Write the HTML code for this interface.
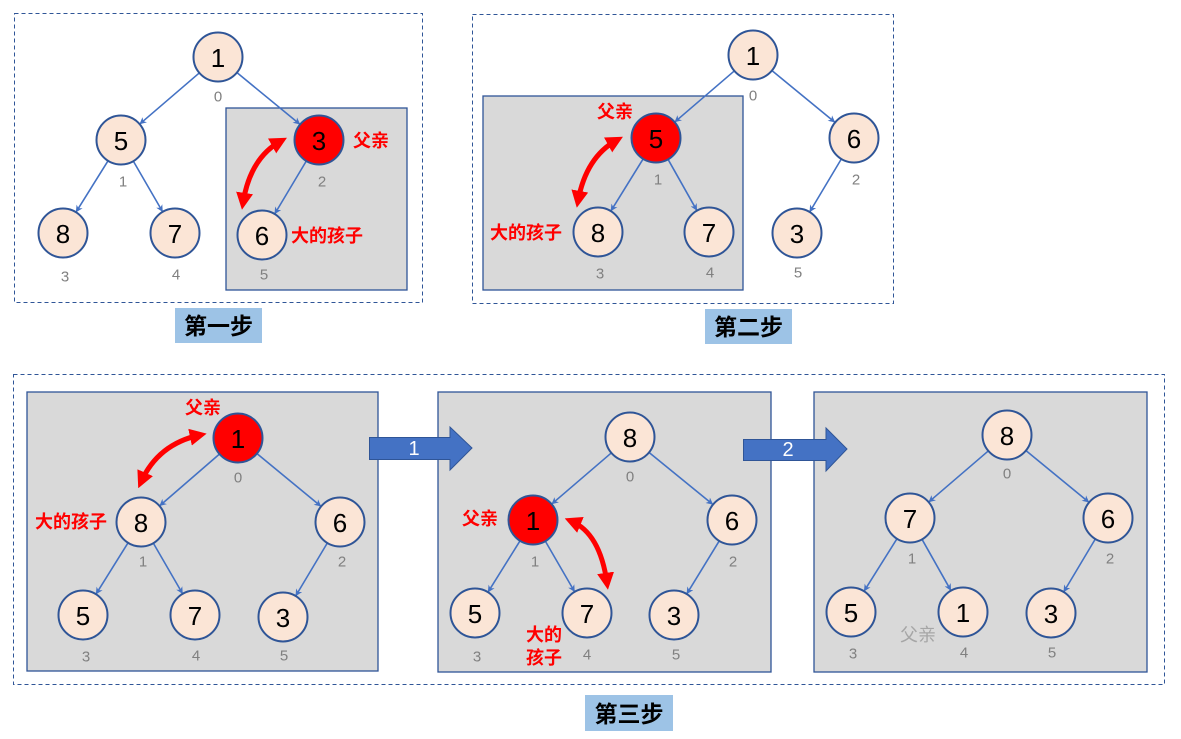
<!DOCTYPE html>
<html><head><meta charset="utf-8"><style>
html,body{margin:0;padding:0;background:#fff;}
svg{display:block;}
.num{font-family:"Liberation Sans",sans-serif;font-size:26px;fill:#000;text-anchor:middle;dominant-baseline:central;}
.idx{font-family:"Liberation Sans",sans-serif;font-size:15px;fill:#808080;text-anchor:middle;dominant-baseline:central;}
.red{font-family:"Liberation Sans","Noto Sans CJK SC",sans-serif;font-size:18px;font-weight:bold;fill:#FF0000;dominant-baseline:central;}
.step{font-family:"Liberation Sans","Noto Sans CJK SC",sans-serif;font-size:23px;font-weight:bold;fill:#000;text-anchor:middle;dominant-baseline:central;}
.n{fill:#FBE5D6;stroke:#2F5597;stroke-width:2;}
.nr{fill:#FF0000;stroke:#2F5597;stroke-width:2;}
.e{stroke:#4472C4;stroke-width:1.6;fill:none;marker-end:url(#ah);}
.c{stroke:#FF0000;stroke-width:5;fill:none;marker-end:url(#rh);marker-start:url(#rhs);}
.dash{fill:none;stroke:#2F5597;stroke-width:1;stroke-dasharray:4 3;}
.gbox{fill:#D9D9D9;stroke:#2F5597;stroke-width:1.3;}
</style></head><body>
<svg width="1181" height="739" viewBox="0 0 1181 739" xmlns="http://www.w3.org/2000/svg">
<defs>
<marker id="ah" viewBox="0 0 10 10" refX="9" refY="5" markerWidth="7" markerHeight="7" markerUnits="userSpaceOnUse" orient="auto">
<path d="M0,0 L10,5 L0,10 L3,5 z" fill="#4472C4"/></marker>
<marker id="rh" viewBox="0 0 10 10" refX="6" refY="5" markerWidth="17" markerHeight="17" markerUnits="userSpaceOnUse" orient="auto">
<path d="M0,0 L10,5 L0,10 z" fill="#FF0000"/></marker>
<marker id="rhs" viewBox="0 0 10 10" refX="6" refY="5" markerWidth="17" markerHeight="17" markerUnits="userSpaceOnUse" orient="auto-start-reverse">
<path d="M0,0 L10,5 L0,10 z" fill="#FF0000"/></marker>
</defs>

<!-- ========== Panel 1 ========== -->
<rect class="dash" x="14.5" y="13.5" width="408" height="289"/>
<rect class="gbox" x="226" y="108" width="181" height="182"/>
<line class="e" x1="199" y1="73.2" x2="140" y2="123.8"/>
<line class="e" x1="237.3" y1="72.9" x2="299.7" y2="124.1"/>
<line class="e" x1="107.8" y1="161.2" x2="76.2" y2="211.8"/>
<line class="e" x1="133.6" y1="161.6" x2="162.4" y2="211.4"/>
<line class="e" x1="306.1" y1="161.4" x2="274.9" y2="213.6"/>
<circle class="n" cx="218" cy="57" r="24.5"/><text class="num" x="218" y="58">1</text><text class="idx" x="218" y="97">0</text>
<circle class="n" cx="121" cy="140" r="24.5"/><text class="num" x="121" y="141">5</text><text class="idx" x="123" y="182">1</text>
<circle class="nr" cx="319" cy="140" r="24.5"/><text class="num" x="319" y="141">3</text><text class="idx" x="322" y="182">2</text>
<circle class="n" cx="63" cy="233" r="24.5"/><text class="num" x="63" y="234">8</text><text class="idx" x="65" y="277">3</text>
<circle class="n" cx="175" cy="233" r="24.5"/><text class="num" x="175" y="234">7</text><text class="idx" x="176" y="275">4</text>
<circle class="n" cx="262" cy="235" r="24.5"/><text class="num" x="262" y="236">6</text><text class="idx" x="264" y="275">5</text>
<path class="c" d="M281,141 Q250,158 243,203"/>
<text class="red" x="353" y="141">父亲</text>
<text class="red" x="291" y="236">大的孩子</text>
<rect x="175" y="308" width="87" height="35" fill="#9DC3E6"/>
<text class="step" x="218.5" y="326">第一步</text>

<!-- ========== Panel 2 ========== -->
<rect class="dash" x="472.5" y="14.5" width="421" height="289"/>
<rect class="gbox" x="483" y="96" width="260" height="194"/>
<line class="e" x1="734" y1="71.2" x2="675" y2="121.8"/>
<line class="e" x1="772.3" y1="70.9" x2="834.7" y2="122.1"/>
<line class="e" x1="642.9" y1="159.3" x2="611.1" y2="210.7"/>
<line class="e" x1="668.3" y1="159.8" x2="696.7" y2="210.2"/>
<line class="e" x1="841.1" y1="159.4" x2="809.9" y2="211.6"/>
<circle class="n" cx="753" cy="55" r="24.5"/><text class="num" x="753" y="56">1</text><text class="idx" x="753" y="96">0</text>
<circle class="nr" cx="656" cy="138" r="24.5"/><text class="num" x="656" y="139">5</text><text class="idx" x="658" y="180">1</text>
<circle class="n" cx="854" cy="138" r="24.5"/><text class="num" x="854" y="139">6</text><text class="idx" x="856" y="180">2</text>
<circle class="n" cx="598" cy="232" r="24.5"/><text class="num" x="598" y="233">8</text><text class="idx" x="600" y="274">3</text>
<circle class="n" cx="709" cy="232" r="24.5"/><text class="num" x="709" y="233">7</text><text class="idx" x="710" y="273">4</text>
<circle class="n" cx="797" cy="233" r="24.5"/><text class="num" x="797" y="234">3</text><text class="idx" x="798" y="273">5</text>
<path class="c" d="M617,140 Q586,157 578,201"/>
<text class="red" x="597" y="112">父亲</text>
<text class="red" x="490" y="233">大的孩子</text>
<rect x="705" y="309" width="87" height="35" fill="#9DC3E6"/>
<text class="step" x="748.5" y="327">第二步</text>

<!-- ========== Panel 3 ========== -->
<rect class="dash" x="13.5" y="374.5" width="1151" height="310"/>

<!-- 3a -->
<rect class="gbox" x="27" y="392" width="351" height="279"/>
<line class="e" x1="219.1" y1="454.4" x2="159.9" y2="505.6"/>
<line class="e" x1="257.3" y1="453.9" x2="320.7" y2="506.1"/>
<line class="e" x1="127.8" y1="543.2" x2="96.2" y2="593.8"/>
<line class="e" x1="153.6" y1="543.6" x2="182.4" y2="593.4"/>
<line class="e" x1="327.1" y1="543.4" x2="295.9" y2="595.6"/>
<circle class="nr" cx="238" cy="438" r="24.5"/><text class="num" x="238" y="439">1</text><text class="idx" x="238" y="478">0</text>
<circle class="n" cx="141" cy="522" r="24.5"/><text class="num" x="141" y="523">8</text><text class="idx" x="143" y="562">1</text>
<circle class="n" cx="340" cy="522" r="24.5"/><text class="num" x="340" y="523">6</text><text class="idx" x="342" y="562">2</text>
<circle class="n" cx="83" cy="615" r="24.5"/><text class="num" x="83" y="616">5</text><text class="idx" x="86" y="657">3</text>
<circle class="n" cx="195" cy="615" r="24.5"/><text class="num" x="195" y="616">7</text><text class="idx" x="196" y="656">4</text>
<circle class="n" cx="283" cy="617" r="24.5"/><text class="num" x="283" y="618">3</text><text class="idx" x="284" y="656">5</text>
<path class="c" d="M200,435 Q158,444 141,482"/>
<text class="red" x="185" y="408">父亲</text>
<text class="red" x="35" y="522">大的孩子</text>

<!-- 3b -->
<rect class="gbox" x="438" y="392" width="333" height="280"/>
<path d="M369.5,437.5 L450,437.5 L450,427 L472,448 L450,470 L450,459.5 L369.5,459.5 z" fill="#4472C4" stroke="#2F5597" stroke-width="1"/>
<text x="414" y="449" font-family="Liberation Sans,sans-serif" font-size="20" fill="#fff" text-anchor="middle" dominant-baseline="central">1</text>
<line class="e" x1="611" y1="453.2" x2="552" y2="503.8"/>
<line class="e" x1="649.4" y1="452.8" x2="712.6" y2="504.2"/>
<line class="e" x1="519.8" y1="541.2" x2="488.2" y2="591.8"/>
<line class="e" x1="545.6" y1="541.6" x2="574.4" y2="591.4"/>
<line class="e" x1="719" y1="541.3" x2="687" y2="593.6"/>
<circle class="n" cx="630" cy="437" r="24.5"/><text class="num" x="630" y="438">8</text><text class="idx" x="630" y="477">0</text>
<circle class="nr" cx="533" cy="520" r="24.5"/><text class="num" x="533" y="521">1</text><text class="idx" x="535" y="562">1</text>
<circle class="n" cx="732" cy="520" r="24.5"/><text class="num" x="732" y="521">6</text><text class="idx" x="733" y="562">2</text>
<circle class="n" cx="475" cy="613" r="24.5"/><text class="num" x="475" y="614">5</text><text class="idx" x="477" y="657">3</text>
<circle class="n" cx="587" cy="613" r="24.5"/><text class="num" x="587" y="614">7</text><text class="idx" x="587" y="655">4</text>
<circle class="n" cx="674" cy="615" r="24.5"/><text class="num" x="674" y="616">3</text><text class="idx" x="676" y="655">5</text>
<path class="c" d="M571,521 Q600,533 607,583"/>
<text class="red" x="462" y="519">父亲</text>
<text class="red" x="526" y="635">大的</text>
<text class="red" x="526" y="658">孩子</text>

<!-- 3c -->
<rect class="gbox" x="814" y="392" width="333" height="280"/>
<path d="M743.5,439.5 L826,439.5 L826,428 L847,449 L826,471 L826,460.5 L743.5,460.5 z" fill="#4472C4" stroke="#2F5597" stroke-width="1"/>
<text x="788" y="450" font-family="Liberation Sans,sans-serif" font-size="20" fill="#fff" text-anchor="middle" dominant-baseline="central">2</text>
<line class="e" x1="988" y1="451.2" x2="929" y2="501.8"/>
<line class="e" x1="1026.3" y1="450.9" x2="1088.7" y2="502.1"/>
<line class="e" x1="896.7" y1="539.2" x2="864.3" y2="590.8"/>
<line class="e" x1="922.3" y1="539.8" x2="950.7" y2="590.2"/>
<line class="e" x1="1095.1" y1="539.4" x2="1063.9" y2="591.6"/>
<circle class="n" cx="1007" cy="435" r="24.5"/><text class="num" x="1007" y="436">8</text><text class="idx" x="1007" y="474">0</text>
<circle class="n" cx="910" cy="518" r="24.5"/><text class="num" x="910" y="519">7</text><text class="idx" x="912" y="559">1</text>
<circle class="n" cx="1108" cy="518" r="24.5"/><text class="num" x="1108" y="519">6</text><text class="idx" x="1110" y="559">2</text>
<circle class="n" cx="851" cy="612" r="24.5"/><text class="num" x="851" y="613">5</text><text class="idx" x="853" y="654">3</text>
<circle class="n" cx="963" cy="612" r="24.5"/><text class="num" x="963" y="613">1</text><text class="idx" x="964" y="653">4</text>
<circle class="n" cx="1051" cy="613" r="24.5"/><text class="num" x="1051" y="614">3</text><text class="idx" x="1052" y="653">5</text>
<text x="900" y="635" font-family="Liberation Sans,Noto Sans CJK SC,sans-serif" font-size="18" fill="#A6A6A6" dominant-baseline="central">父亲</text>

<rect x="585" y="695" width="88" height="36" fill="#9DC3E6"/>
<text class="step" x="629" y="714">第三步</text>
</svg>
</body></html>
